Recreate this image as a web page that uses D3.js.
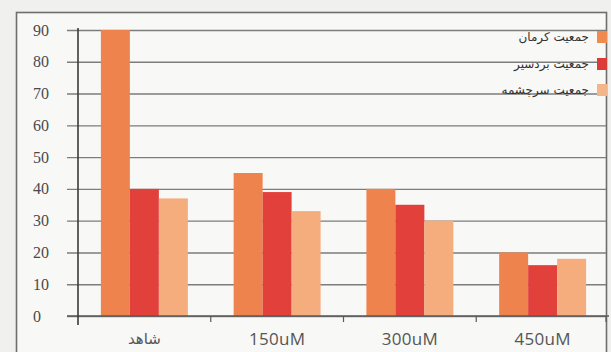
<!DOCTYPE html>
<html>
<head>
<meta charset="utf-8">
<script src="https://cdn.jsdelivr.net/npm/d3@7"></script>
<style>
  html, body { margin: 0; padding: 0; background: #f0f0ee; }
  svg { display: block; }
  .ylab { font-family: "Liberation Serif", "Times New Roman", serif; font-size: 16px; }
</style>
</head>
<body>
<svg id="chart" width="611" height="352"></svg>
<script>
// Category labels along the x axis
const categories = ["شاهد", "150uM", "300uM", "450uM"];
// Series names (legend) and their values per category
const seriesNames = ["جمعیت کرمان", "جمعیت بردسیر", "جمعیت سرچشمه"];
const kermanValues = [90, 45, 40, 20];
const bardsirValues = [40, 39, 35, 16];
const sarcheshmehValues = [37, 33, 30, 18];
const seriesValues = [kermanValues, bardsirValues, sarcheshmehValues];
const yTicks = [0, 10, 20, 30, 40, 50, 60, 70, 80, 90];
const colors = ["#ef834e", "#e2403a", "#f5ad7e"];
const legendColors = ["#f08a4e", "#dd3a3a", "#f5b58a"];

const svg = d3.select("#chart");

// Framed panel
svg.append("rect")
  .attr("x", 16.5).attr("y", 12.5)
  .attr("width", 590).attr("height", 360)
  .attr("fill", "#f8f8f6")
  .attr("stroke", "#6e6e6e")
  .attr("stroke-width", 1.6);

const plotLeft = 78, plotRight = 609, plotTop = 30, plotBottom = 316;

const x0 = d3.scaleBand().domain(categories).range([plotLeft, plotRight]).padding(0);
const x1 = d3.scaleBand().domain(d3.range(seriesNames.length))
  .range([0, x0.bandwidth()]).paddingInner(0).paddingOuter(0.79);
const y = d3.scaleLinear().domain([0, 90]).range([plotBottom, plotTop]);

// Horizontal gridlines with tick stubs left of the axis
const yAxis = d3.axisLeft(y).tickValues(yTicks)
  .tickSize(-(plotRight - 3 - plotLeft)).tickFormat("");
const gy = svg.append("g").attr("transform", `translate(${plotLeft},0)`).call(yAxis);
gy.select(".domain").remove();
gy.selectAll(".tick line")
  .attr("x1", -11)
  .attr("stroke", "#7d7d7d").attr("stroke-width", 1.4);

// Y tick labels (serif, left aligned)
svg.append("g").selectAll("text").data(yTicks).join("text")
  .attr("class", "ylab")
  .attr("x", 33).attr("y", d => y(d))
  .attr("dy", "0.35em")
  .attr("fill", "#4a4a4a")
  .text(d => d);

// Bars
const groups = svg.append("g").selectAll("g").data(categories).join("g")
  .attr("transform", d => `translate(${x0(d)},0)`);
groups.selectAll("rect")
  .data((c, ci) => seriesValues.map((vals, si) => ({ si, v: vals[ci] })))
  .join("rect")
  .attr("x", d => x1(d.si))
  .attr("width", x1.bandwidth())
  .attr("y", d => y(d.v))
  .attr("height", d => y(0) - y(d.v))
  .attr("fill", d => colors[d.si]);

// X axis line with ticks at band boundaries
const gx = svg.append("g").attr("transform", `translate(0,${plotBottom})`);
gx.append("line")
  .attr("x1", plotLeft - 11).attr("x2", plotRight)
  .attr("stroke", "#5a5a5a").attr("stroke-width", 1.6);
gx.selectAll("line.bt").data(categories.slice(1).concat(["__end"])).join("line")
  .attr("class", "bt")
  .attr("x1", d => d === "__end" ? plotRight - 3 : x0(d))
  .attr("x2", d => d === "__end" ? plotRight - 3 : x0(d))
  .attr("y1", 0).attr("y2", 6)
  .attr("stroke", "#5a5a5a").attr("stroke-width", 1.2);

// Y axis line
svg.append("line")
  .attr("x1", plotLeft).attr("x2", plotLeft)
  .attr("y1", plotTop - 2).attr("y2", plotBottom + 9)
  .attr("stroke", "#3a3a3a").attr("stroke-width", 1.6);

// X tick labels
svg.append("g").selectAll("text").data(categories).join("text")
  .attr("x", d => x0(d) + x0.bandwidth() / 2)
  .attr("y", 339)
  .attr("dy", "0.35em")
  .attr("text-anchor", "middle")
  .style("font-family", "'Open Sans', 'DejaVu Sans', sans-serif")
  .attr("font-size", (d, i) => i === 0 ? 15 : 17)
  .attr("letter-spacing", (d, i) => i === 0 ? 0 : 0.3)
  .attr("fill", "#555")
  .text(d => d);

// Legend (top right)
const legendY = [37, 64, 90];
const legend = svg.append("g").selectAll("g").data(seriesNames).join("g")
  .attr("transform", (d, i) => `translate(0,${legendY[i]})`);
legend.append("rect")
  .attr("x", 597).attr("y", -6).attr("width", 10).attr("height", 12)
  .attr("fill", (d, i) => legendColors[i]);
legend.append("text")
  .attr("x", 589).attr("y", 0).attr("dy", "0.35em")
  .attr("text-anchor", "end")
  .style("font-family", "'DejaVu Sans', sans-serif")
  .attr("font-size", 12)
  .attr("fill", "#333")
  .text(d => d);
</script>
</body>
</html>
